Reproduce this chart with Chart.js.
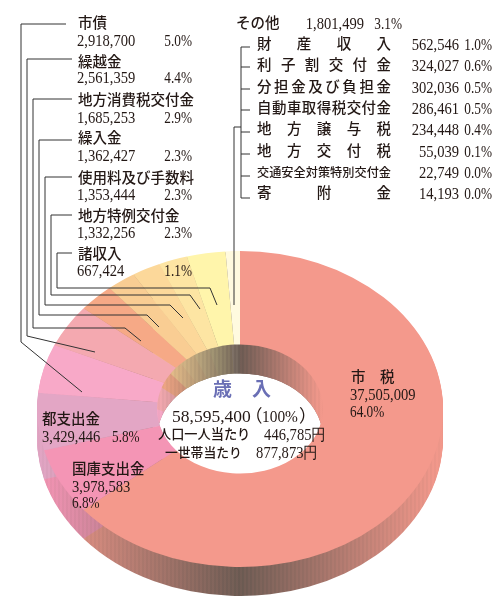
<!DOCTYPE html>
<html lang="ja">
<head>
<meta charset="utf-8">
<title>歳入</title>
<script src="https://cdn.jsdelivr.net/npm/chart.js@4"></script>
<style>
  html, body { margin: 0; padding: 0; background: #fff; }
  #wrap { position: relative; width: 493px; height: 596px; }
</style>
</head>
<body>
<div id="wrap"><canvas id="myChart" width="493" height="596"></canvas></div>
<script>
// ===============================
// DATA (clockwise from the top, in the order the picture shows the slices)
// ===============================
const categories = ['市税', '国庫支出金', '都支出金', '市債', '繰越金', '地方消費税交付金', '繰入金', '使用料及び手数料', '地方特例交付金', 'その他', '諸収入'];
const seriesValues = [37505009, 3978583, 3429446, 2918700, 2561359, 1685253, 1362427, 1353444, 1332256, 1801499, 667424];
const seriesPercents = ['64.0%', '6.8%', '5.8%', '5.0%', '4.4%', '2.9%', '2.3%', '2.3%', '2.3%', '3.1%', '1.1%'];

// breakdown of その他
const otherCategories = ['財産収入', '利子割交付金', '分担金及び負担金', '自動車取得税交付金', '地方譲与税', '地方交付税', '交通安全対策特別交付金', '寄附金'];
const otherValues = [562546, 324027, 302036, 286461, 234448, 55039, 22749, 14193];
const otherPercents = ['1.0%', '0.6%', '0.5%', '0.5%', '0.4%', '0.1%', '0.0%', '0.0%'];

const centerTitle = ['歳', '入'];
const centerTotal = ['58,595,400', '（', '100%', '）'];
const perPersonLabel = '人口一人当たり';
const perPersonValue = '446,785円';
const perHouseholdLabel = '一世帯当たり';
const perHouseholdValue = '877,873円';

// ===============================
// STYLE AND LAYOUT
// ===============================
const sliceColors = ['#f4998c', '#f495b5', '#e3a6c5', '#f8a9c8', '#f4a9b0', '#f6a986', '#f9cd93', '#fcd89a', '#fde5a3', '#fff5ab', '#fffadf'];
const darkSide = [102, 88, 80];

const SANS = '"Noto Sans CJK JP", sans-serif';
const SERIF = '"Liberation Serif", serif';
const NAME_FONT = '500 14.5px ' + SANS;
const NUM_FONT = '16px ' + SERIF;

const centerX = 240, centerY = 409;
const radiusX = 203, radiusY = 158, holeX = 83;
const depth = 29;
const squash = radiusY / radiusX;

// label blocks hanging from the leaders on the left: slice index, name baseline, number baseline
const leftBlocks = [[3, 27.5, 46], [4, 66.5, 83], [5, 104.5, 123], [6, 142.5, 161], [7, 182.5, 200], [8, 220.5, 238], [10, 258.5, 276]];
const otherRowY = [50, 71, 93, 114, 135, 157, 178, 199];
const otherTickY = [47, 67, 89, 110, 132, 154, 176, 198];

const leaders = [
    [[66, 24], [21, 24], [21, 342], [82, 392]],
    [[72, 59], [27, 59], [27, 336], [95, 352]],
    [[72, 99], [33, 99], [33, 328], [125, 328], [141, 341]],
    [[72, 140], [39, 140], [39, 315], [147, 315], [159, 327]],
    [[72, 177], [45, 177], [45, 305], [170, 305], [183, 318]],
    [[72, 215], [51, 215], [51, 295], [190, 295], [200, 309]],
    [[72, 253], [57, 253], [57, 288], [210, 288], [217, 305]],
    [[241, 127], [234, 127], [234, 305]]
];

// ===============================
// HELPERS
// ===============================
function hexToRgb(hex) {
    return [1, 3, 5].map(i => parseInt(hex.substr(i, 2), 16));
}

// side wall colour: the slice colour pulled towards the dark tone near the middle
function sideGradient(ctx, hex, halfWidth) {
    const base = hexToRgb(hex);
    const g = ctx.createLinearGradient(centerX - halfWidth, 0, centerX + halfWidth, 0);
    const steps = Math.round(halfWidth);
    for (let i = 0; i <= steps; i++) {
        const t = i / steps;
        const stripe = i % 2 ? 0.05 : -0.05;
        let shade = (1 - Math.abs(2 * t - 1)) * 0.95 + stripe;
        shade = Math.max(0, Math.min(1, shade));
        const c = base.map((v, k) => Math.round(v + (darkSide[k] - v) * shade));
        g.addColorStop(t, 'rgb(' + c.join(',') + ')');
    }
    return g;
}

function drawSides(ctx, arcs, halfWidth) {
    const y0 = arcs[0].y;
    arcs.forEach((el, i) => {
        const saved = el.options;
        el.options = Object.assign({}, saved, { backgroundColor: sideGradient(ctx, sliceColors[i], halfWidth) });
        for (let d = depth; d >= 1; d--) {
            ctx.save();
            ctx.translate(0, centerY + d);
            ctx.scale(1, squash);
            ctx.translate(0, -y0);
            el.draw(ctx);
            ctx.restore();
        }
        el.options = saved;
    });
}

function text(ctx, str, x, y, font, color, align) {
    ctx.font = font;
    ctx.fillStyle = color || '#231815';
    ctx.textAlign = align || 'left';
    ctx.textBaseline = 'alphabetic';
    ctx.fillText(str, x, y);
}

// the numbers in the picture are a condensed serif
function num(ctx, str, x, y, align, stretch) {
    ctx.save();
    ctx.translate(x, y);
    ctx.scale(stretch || 0.91, 1);
    text(ctx, str, 0, 0, NUM_FONT, null, align);
    ctx.restore();
}

function pct(ctx, str, x, y, align) {
    num(ctx, str, x, y, align, 0.83);
}

// spread the characters of a label over a fixed width
function justified(ctx, str, x, y, width, size) {
    const n = str.length;
    const fontSize = Math.min(size, width / n);
    const step = (width - fontSize) / (n - 1);
    for (let i = 0; i < n; i++) {
        text(ctx, str[i], x + step * i, y, '500 ' + fontSize + 'px ' + SANS);
    }
}

function fmt(v) {
    return v.toLocaleString('en-US');
}

// ===============================
// 3D RING PLUGIN
// ===============================
const ringPlugin = {
    id: 'ring',
    beforeDatasetsDraw(chart) {
        const ctx = chart.ctx;
        const arcs = chart.getDatasetMeta(0).data;

        // outer wall
        drawSides(ctx, arcs, radiusX);

        // inner wall: only the part seen through the hole
        ctx.save();
        ctx.beginPath();
        ctx.rect(centerX - holeX - 4, centerY - radiusY, (holeX + 4) * 2, radiusY + 50);
        ctx.clip();
        drawSides(ctx, arcs, holeX);
        ctx.restore();

        // top face is drawn by the library under this transform
        ctx.save();
        ctx.translate(0, centerY);
        ctx.scale(1, squash);
        ctx.translate(0, -arcs[0].y);
    },
    afterDatasetsDraw(chart) {
        chart.ctx.restore();
    }
};

// ===============================
// LABELS AND LEADERS PLUGIN
// ===============================
const labelPlugin = {
    id: 'labels',
    afterDraw(chart) {
        const ctx = chart.ctx;
        const OTHER = categories.indexOf('その他');

        // leaders
        ctx.strokeStyle = '#333';
        ctx.lineWidth = 1;
        leaders.forEach(points => {
            ctx.beginPath();
            points.forEach((p, i) => i ? ctx.lineTo(p[0], p[1]) : ctx.moveTo(p[0], p[1]));
            ctx.stroke();
        });

        // bracket of その他
        ctx.beginPath();
        ctx.moveTo(250, otherTickY[0]);
        ctx.lineTo(241, otherTickY[0]);
        ctx.lineTo(241, otherTickY[7]);
        ctx.lineTo(250, otherTickY[7]);
        otherTickY.slice(1, 7).forEach(y => {
            ctx.moveTo(241, y);
            ctx.lineTo(250, y);
        });
        ctx.stroke();

        // left blocks
        leftBlocks.forEach(([i, nameY, numY]) => {
            text(ctx, categories[i], 78, nameY, NAME_FONT);
            num(ctx, fmt(seriesValues[i]), 77, numY);
            pct(ctx, seriesPercents[i], 192, numY, 'right');
        });

        // その他
        text(ctx, categories[OTHER], 236, 27.5, NAME_FONT);
        num(ctx, fmt(seriesValues[OTHER]), 364, 29, 'right');
        pct(ctx, seriesPercents[OTHER], 402, 29, 'right');
        otherCategories.forEach((name, i) => {
            justified(ctx, name, 257, otherRowY[i] - 1.5, 134, 14.5);
            num(ctx, fmt(otherValues[i]), 459, otherRowY[i], 'right');
            pct(ctx, otherPercents[i], 492, otherRowY[i], 'right');
        });

        // inside the ring
        text(ctx, categories[0][0], 351, 381.5, NAME_FONT);
        text(ctx, categories[0][1], 380, 381.5, NAME_FONT);
        num(ctx, fmt(seriesValues[0]), 350, 400);
        pct(ctx, seriesPercents[0], 350, 417);

        text(ctx, categories[2], 42, 423.5, NAME_FONT);
        num(ctx, fmt(seriesValues[2]), 42, 442);
        pct(ctx, seriesPercents[2], 112, 442);

        text(ctx, categories[1], 72, 473.5, NAME_FONT);
        num(ctx, fmt(seriesValues[1]), 72, 492);
        pct(ctx, seriesPercents[1], 72, 508);

        // centre of the hole
        const titleFont = 'bold 19px ' + SANS;
        text(ctx, centerTitle[0], 213, 396, titleFont, '#6a6fb5');
        text(ctx, centerTitle[1], 252, 396, titleFont, '#6a6fb5');
        text(ctx, centerTotal[0], 172, 422, '17.5px ' + SERIF);
        text(ctx, centerTotal[1], 245, 422, '17.5px "Noto Sans CJK JP"');
        ctx.save();
        ctx.translate(262, 422);
        ctx.scale(0.88, 1);
        text(ctx, centerTotal[2], 0, 0, '17.5px ' + SERIF);
        ctx.restore();
        text(ctx, centerTotal[3], 299, 422, '17.5px "Noto Sans CJK JP"');

        text(ctx, perPersonLabel, 158, 438.5, '500 13.2px ' + SANS);
        num(ctx, perPersonValue, 326, 440, 'right');
        text(ctx, perHouseholdLabel, 165, 456.5, '500 12.8px ' + SANS);
        num(ctx, perHouseholdValue, 318, 458, 'right');
    }
};

// ===============================
// CHART JS
// ===============================
const ctx = document.getElementById('myChart').getContext('2d');

const myChart = new Chart(ctx, {
    type: 'doughnut',
    data: {
        labels: categories,
        datasets: [{
            data: seriesValues,
            backgroundColor: sliceColors,
            borderWidth: 0
        }]
    },
    options: {
        responsive: false,
        animation: false,
        cutout: (holeX / radiusX * 100) + '%',
        events: [],
        layout: { padding: { left: centerX - radiusX, right: 493 - centerX - radiusX, top: 0, bottom: 0 } },
        plugins: {
            legend: { display: false },
            tooltip: { enabled: false }
        }
    },
    plugins: [ringPlugin, labelPlugin]
});
</script>
</body>
</html>
